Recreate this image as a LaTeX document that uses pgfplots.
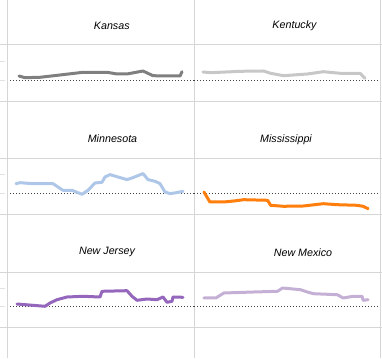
\documentclass[border=0pt]{standalone}
\usepackage{pgfplots}
\pgfplotsset{compat=1.18}
\usepackage{fontspec}
\setmainfont{Liberation Sans}
\definecolor{gridc}{HTML}{D6D6D6}
\definecolor{cKS}{HTML}{7F7F7F}
\definecolor{cKY}{HTML}{C7C7C7}
\definecolor{cMN}{HTML}{AEC7E8}
\definecolor{cMS}{HTML}{FF7F0E}
\definecolor{cNJ}{HTML}{9467BD}
\definecolor{cNM}{HTML}{C5B0D5}
\pgfplotsset{
  panel/.style={scale only axis, axis line style={draw=none}, ticks=none,
    xmin=0, xmax=187, ymin=-21, clip=false, anchor=south west},
  ser/.style={line width=3pt, line join=round, line cap=round, #1},
}
\begin{document}
\begin{tikzpicture}[x=1pt,y=1pt]
\useasboundingbox (0,0) rectangle (382,358);
\clip (0,0) rectangle (382,358);
% frame lines
\foreach \yy in {44,101,158,214,272,327} {
  \draw[gridc, line width=0.9pt] (0,358-\yy) -- (382,358-\yy);
}
\foreach \xx in {7,194,380} {
  \draw[gridc, line width=0.9pt] (\xx,0) -- (\xx,358);
}
\foreach \yy in {61,80,174,193,288,306} {
  \draw[gridc!70, line width=0.8pt] (0,358-\yy) -- (5,358-\yy);
}
\tikzset{every node/.style={font=\fontsize{10.7}{12}\selectfont\itshape}}
\node at (111.8,358-26) {Kansas};
\node at (294.5,358-26) {Kentucky};
\node at (112.5,358-139) {Minnesota};
\node at (286,358-139.3) {Mississippi};
\node at (107,358-252.3) {New Jersey};
\node at (303,358-252.3) {New Mexico};
\tikzset{every node/.style={}}

% Row 1
\begin{axis}[panel, at={(7pt,257pt)}, width=187pt, height=57pt, ymax=36]
\draw[black!75, line width=0.8pt, dash pattern=on 0.8pt off 2.2pt] (axis cs:3,0) -- (axis cs:187,0);
\addplot[ser=cKS] coordinates {(12,4) (18,2.3) (33,2.7) (53,5) (76,7.7) (100,7.7) (110,6) (120,6) (136,9) (146,4.3) (160,4) (173,4) (175,8.3)};
\end{axis}
\begin{axis}[panel, at={(194pt,257pt)}, width=186pt, height=57pt, ymax=36]
\draw[black!75, line width=0.8pt, dash pattern=on 0.8pt off 2.2pt] (axis cs:0,0) -- (axis cs:187,0);
\addplot[ser=cKY] coordinates {(9,8) (17,7.3) (47,8.7) (70,9) (77,6.7) (90,4.3) (114,6) (130,8.3) (147,6.7) (167,6.7) (172,1.7)};
\end{axis}
% Row 2
\begin{axis}[panel, at={(7pt,144pt)}, width=187pt, height=56pt, ymax=35]
\draw[black!75, line width=0.8pt, dash pattern=on 0.8pt off 2.2pt] (axis cs:3,0) -- (axis cs:187,0);
\addplot[ser=cMN] coordinates {(9,9.3) (13,10.3) (26,9.3) (46,9.3) (51,6.0) (56,2.7) (65,2.7) (75,-1.3) (81,2.7) (88,10.0) (95,10.7) (98,16.0) (103,18.4) (113,15.4) (120,13.4) (126,15.4) (136,19.4) (141,13.4) (148,11.7) (153,9.4) (158,1.0) (163,-0.6) (170,0.4) (176,1.7)};
\end{axis}
\begin{axis}[panel, at={(194pt,144pt)}, width=186pt, height=56pt, ymax=35]
\draw[black!75, line width=0.8pt, dash pattern=on 0.8pt off 2.2pt] (axis cs:0,0) -- (axis cs:187,0);
\addplot[ser=cMS] coordinates {(10,1.0) (16,-9) (30,-9) (40,-8) (50,-6.7) (74,-7.3) (77,-12.3) (90,-13.3) (110,-13) (130,-10.7) (144,-11.7) (164,-12.3) (170,-13.3) (175,-15.7)};
\end{axis}
% Row 3
\begin{axis}[panel, at={(7pt,31pt)}, width=187pt, height=55pt, ymax=34]
\draw[black!75, line width=0.8pt, dash pattern=on 0.8pt off 2.2pt] (axis cs:3,0) -- (axis cs:187,0);
\addplot[ser=cNJ] coordinates {(10,2) (26,0.7) (38,-0.3) (43,3) (50,6.3) (60,9) (76,9.7) (93,9) (95,14.7) (120,15.3) (125,9.7) (130,5.7) (140,7) (150,6.3) (156,9) (160,3.7) (165,4.7) (166,9) (176,8.7)};
\end{axis}
\begin{axis}[panel, at={(194pt,31pt)}, width=186pt, height=55pt, ymax=34]
\draw[black!75, line width=0.8pt, dash pattern=on 0.8pt off 2.2pt] (axis cs:0,0) -- (axis cs:187,0);
\addplot[ser=cNM] coordinates {(10,8) (22,8) (30,13) (60,14) (84,14.7) (89,18) (107,16.3) (114,14) (120,12.3) (144,11.3) (150,8) (160,9.7) (169,9.7) (170,5.7) (175,6.3)};
\end{axis}
\end{tikzpicture}
\end{document}
